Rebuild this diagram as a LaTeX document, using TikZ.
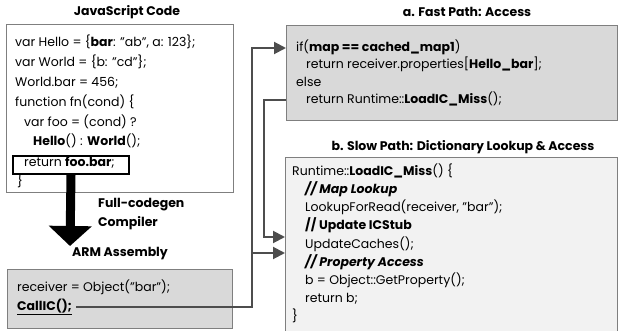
\documentclass[tikz,border=0pt]{standalone}
\usepackage{fontspec}
\setmainfont{Poppins}
\usetikzlibrary{arrows.meta}

\definecolor{boxline}{HTML}{7F7F7F}
\definecolor{linkgray}{HTML}{4D4D4D}
\definecolor{fastfill}{HTML}{D9D9D9}
\definecolor{slowfill}{HTML}{F2F2F2}
\newcommand{\codesize}{\fontsize{12.5}{14}\selectfont}

\begin{document}
\begin{tikzpicture}[x=1pt,y=-1pt,
  box/.style={draw=boxline, line width=0.8pt, anchor=north west, inner sep=0pt},
  code/.style={anchor=west, inner sep=0pt, text height=9.5pt, text depth=3pt, font=\codesize},
  heading/.style={inner sep=0pt, font=\codesize\bfseries},
  link/.style={draw=linkgray, line width=2pt, -{Triangle[length=12pt,width=12pt]}}]
\useasboundingbox (0,0) rectangle (618,331);

% boxes
\node[box, fill=white, minimum width=227pt, minimum height=168pt] (js) at (6,24) {};
\node[box, fill=fastfill, minimum width=225pt, minimum height=59pt] (asm) at (7,269) {};
\node[box, fill=fastfill, minimum width=331pt, minimum height=95pt] (fast) at (286,25) {};
\node[box, fill=slowfill, minimum width=332pt, minimum height=180pt] (slow) at (285,157) {};

% titles
\node[heading] (jstitle) at (127,12) {JavaScript Code};
\node[heading] (fasttitle) at (467,12) {a. Fast Path: Access};
\node[heading] (slowtitle) at (463,147) {b. Slow Path: Dictionary Lookup \& Access};
\node[heading] (asmtitle) at (120,254) {ARM Assembly};
\node[heading, anchor=west] (fcg) at (98,205) {Full-codegen};
\node[heading, anchor=west] (comp) at (98,223) {Compiler};

% JavaScript code
\node[code] (js1) at (15,43) {var Hello = \{\textbf{bar}: "ab", a: 123\};};
\node[code] (js2) at (15,63) {var World = \{b: "cd"\};};
\node[code] (js3) at (15,83) {World.bar = 456;};
\node[code] (js4) at (15,103) {function fn(cond) \{};
\node[code] (js5) at (24,123) {var foo = (cond) ?};
\node[code] (js6) at (33,142) {\textbf{Hello}() : \textbf{World}();};
\node[draw=black, line width=2pt, fill=white, anchor=north west, inner sep=0pt,
  minimum width=116pt, minimum height=18pt] (ret) at (12,155) {};
\node[code] (js7) at (24,163) {return \textbf{foo.bar};};
\node[code] (js8) at (17,182) {\}};

% assembly
\node[code] (asm1) at (17,288) {receiver = Object("bar");};
\node[code] (callic) at (17,307) {\underline{\textbf{CallIC();}}};

% fast path
\node[code] (fast1) at (296,48) {if(\textbf{map == cached\_map1})};
\node[code] (fast2) at (306,65.5) {return receiver.properties[\textbf{Hello\_bar}];};
\node[code] (fast3) at (296,83) {else};
\node[code] (fast4) at (306,100) {return Runtime::\textbf{LoadIC\_Miss}();};

% slow path
\node[code] (slow1) at (292,172) {Runtime::\textbf{LoadIC\_Miss}() \{};
\node[code] (slow2) at (305,190.2) {\textbf{\textit{// Map Lookup}}};
\node[code] (slow3) at (305,208.4) {LookupForRead(receiver, "bar");};
\node[code] (slow4) at (305,226.6) {\textbf{// Update ICStub}};
\node[code] (slow5) at (305,244.8) {UpdateCaches();};
\node[code] (slow6) at (305,263) {\textbf{\textit{// Property Access}}};
\node[code] (slow7) at (305,281.2) {b = Object::GetProperty();};
\node[code] (slow8) at (305,299.4) {return b;};
\node[code] (slow9) at (292,317.6) {\}};

% compiler arrow
\coordinate (asmtop) at (70,246);
\draw[line width=9pt, -{Triangle[length=20pt,width=42pt]}] (ret.south) -- (asmtop);

% connectors
\coordinate (busA) at (252,307);
\coordinate (busB) at (264,100);
\coordinate (inUp) at (285,237);
\coordinate (inLow) at (285,253);
\draw[link] ([xshift=4pt]callic.east) -| (busA |- fast1) -- (fast.west |- fast1);
\draw[link] (busA |- inLow) -- (inLow);
\draw[link] (fast.west |- fast4) -| (busB |- inUp) -- (inUp);
\end{tikzpicture}
\end{document}
